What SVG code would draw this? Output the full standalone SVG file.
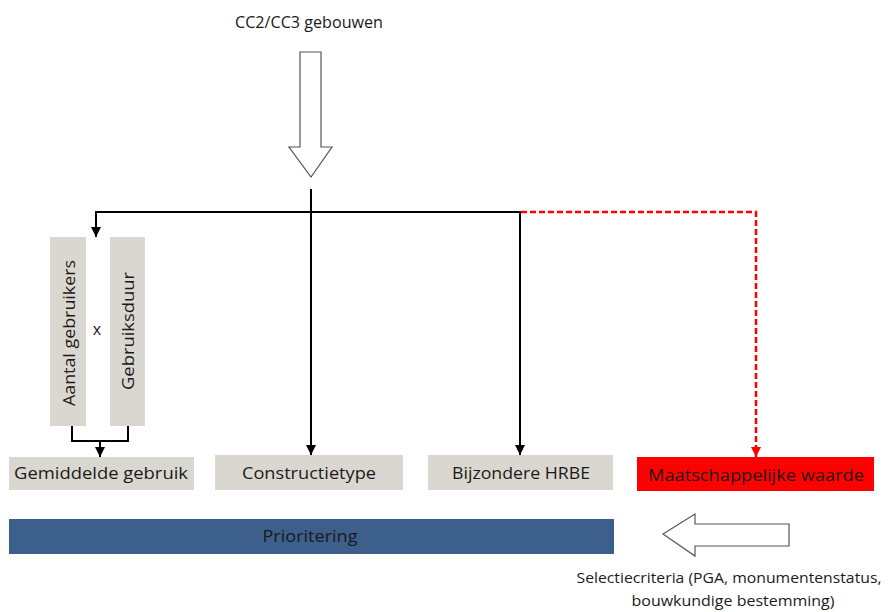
<svg xmlns="http://www.w3.org/2000/svg" width="891" height="612" viewBox="0 0 891 612">
<style>
text{font-family:"Open Sans","Liberation Sans",Arial,sans-serif;font-size:17px;fill:#1a1a1a}
text.sm{font-size:14px}
text.tx{font-size:16px}
.box{fill:#DAD7D0}
.ln{fill:none;stroke:#000;stroke-width:2}
.red{fill:none;stroke:#FF0000;stroke-width:2.5;stroke-dasharray:6,3}
.hollow{fill:#fff;stroke:#555;stroke-width:1.2}
</style>
<defs>
<marker id="ah" viewBox="0 0 10 10" refX="10" refY="5" markerWidth="5" markerHeight="5" orient="auto" markerUnits="strokeWidth"><path d="M0,0L10,5L0,10z" fill="#000"/></marker>
<marker id="ahr" viewBox="0 0 10 10" refX="10" refY="5" markerWidth="4" markerHeight="4" orient="auto" markerUnits="strokeWidth"><path d="M0,0L10,5L0,10z" fill="#FF0000"/></marker>
</defs>
<g id="top-label"><text x="309" y="28" text-anchor="middle" textLength="148" lengthAdjust="spacingAndGlyphs">CC2/CC3 gebouwen</text></g>
<g id="down-arrow"><path class="hollow" d="M300,52H321V147H332L311,177L289,147H300Z"/></g>
<g id="connectors">
<path class="ln" d="M311,189V455" marker-end="url(#ah)"/>
<path class="ln" d="M520,212H96V237" marker-end="url(#ah)"/>
<path class="ln" d="M311,212H520V455" marker-end="url(#ah)"/>
<path class="red" d="M521,212H756V457" marker-end="url(#ahr)"/>
<path class="ln" d="M72,426V441H128V426M100,441V457" marker-end="url(#ah)"/>
</g>
<g id="aantal"><rect class="box" x="50" y="237" width="36" height="189"/><text transform="translate(75,333) rotate(-90)" text-anchor="middle" textLength="146" lengthAdjust="spacingAndGlyphs">Aantal gebruikers</text></g>
<g id="times"><text class="tx" x="97" y="335" text-anchor="middle">x</text></g>
<g id="gebruiksduur"><rect class="box" x="110" y="237" width="35" height="189"/><text transform="translate(134,331) rotate(-90)" text-anchor="middle" textLength="118" lengthAdjust="spacingAndGlyphs">Gebruiksduur</text></g>
<g id="gemiddelde"><rect class="box" x="9" y="457" width="185" height="33"/><text x="101" y="479" text-anchor="middle" textLength="174" lengthAdjust="spacingAndGlyphs">Gemiddelde gebruik</text></g>
<g id="constructietype"><rect class="box" x="215" y="455" width="188" height="35"/><text x="309" y="479" text-anchor="middle" textLength="134" lengthAdjust="spacingAndGlyphs">Constructietype</text></g>
<g id="hrbe"><rect class="box" x="428" y="455" width="185" height="35"/><text x="521" y="479" text-anchor="middle" textLength="138" lengthAdjust="spacingAndGlyphs">Bijzondere HRBE</text></g>
<g id="maatschappelijk"><rect x="637" y="457" width="237" height="34" fill="#FF0000"/><text x="756" y="481" text-anchor="middle" textLength="216" lengthAdjust="spacingAndGlyphs">Maatschappelijke waarde</text></g>
<g id="prioritering"><rect x="9" y="519" width="605" height="35" fill="#3C5F8B"/><text x="310" y="542" text-anchor="middle" textLength="95" lengthAdjust="spacingAndGlyphs">Prioritering</text></g>
<g id="left-arrow"><path class="hollow" d="M789,524V546H695V556L663,534L695,514V524Z"/></g>
<g id="selectie"><text class="sm" x="729" y="583" text-anchor="middle" textLength="305" lengthAdjust="spacingAndGlyphs">Selectiecriteria (PGA, monumentenstatus,</text><text class="sm" x="733" y="606" text-anchor="middle" textLength="203" lengthAdjust="spacingAndGlyphs">bouwkundige bestemming)</text></g>
</svg>
